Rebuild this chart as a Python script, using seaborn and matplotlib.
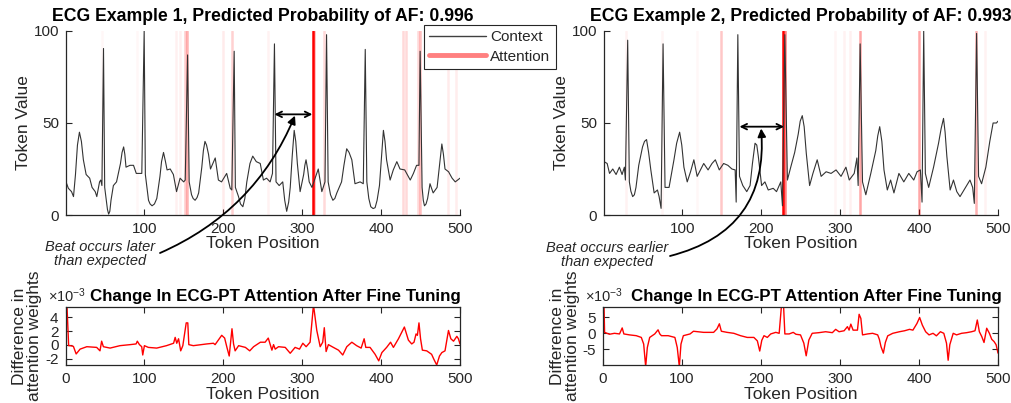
import matplotlib
matplotlib.use("Agg")
import matplotlib.pyplot as plt
import seaborn as sns
import pandas as pd
from matplotlib.lines import Line2D

# ---------------- data ----------------
ecg1_points = [(1, 18), (4, 14.5), (8, 12.7), (10.5, 10), (13, 22), (15.5, 38), (18, 45), (20.5, 40),
               (23, 30), (26.5, 22), (31, 20),
               (34, 15), (38, 12.7), (40, 10), (43.5, 18), (45, 19), (46.5, 16), (48.5, 90.5), (50, 15),
               (52, 8), (53.5, 3), (55, 0.5), (56.5, 2), (58, 8), (61, 16), (65, 18), (68, 24), (70, 28),
               (72, 34), (74, 37), (75.5, 33), (77, 26), (82, 27),
               (86.5, 27), (90, 22.6), (97, 22.6), (100, 100), (101.5, 22), (105.5, 8), (107.5, 6),
               (110, 5), (113, 6), (116, 9),
               (120, 21), (122, 29), (124.5, 34), (127, 29), (129, 24.5), (133, 25), (137, 22), (141, 12.7),
               (145.5, 20), (150, 18), (152, 19), (155, 87), (157, 18), (160, 11), (162, 9), (164.5, 8),
               (167, 9.5), (169, 12), (173, 26), (175, 35),
               (177, 40), (179, 38), (181.5, 33), (184, 25), (190, 31), (194, 19), (198, 18), (204.5, 22.6),
               (209, 14.5), (211, 13.6), (214, 89), (215.5, 15), (219.5, 10), (222, 6), (225, 4.5),
               (227.5, 9), (230, 18),
               (234, 28), (237.5, 32), (242, 29), (247, 28), (251, 19), (255, 20), (259.5, 18),
               (262.5, 22.6), (265, 93), (267, 18), (271, 16), (275.5, 18), (278, 8), (280.5, 2), (283, 7),
               (285, 15), (287.5, 32),
               (290, 46), (292, 40), (294, 28), (297.5, 12.7), (302, 22), (303.5, 27), (305, 30), (307, 25),
               (309, 18), (312.5, 15),
               (316.5, 20), (320.5, 25), (325, 12.7), (329, 18), (331, 98), (333, 18), (336, 11), (339, 8),
               (341.5, 9), (344, 12),
               (350, 18), (353, 27), (356.5, 36), (359.5, 34), (363, 30), (367, 17), (373.5, 18),
               (377.5, 17), (380, 90), (382, 18),
               (384.5, 9), (387, 4.5), (390, 3.5), (392.5, 4), (395, 8), (398, 16), (400.5, 31), (403, 46),
               (405, 40), (407, 30), (411.5, 19), (415.5, 24.5),
               (420, 29), (424, 25), (430, 24.5), (437, 19), (441, 22.6), (445, 27), (448, 27),
               (449.5, 89), (452, 15), (453.5, 8), (455, 5), (457, 6), (459, 9), (462, 17), (466, 12),
               (471, 15), (474, 27), (477, 38.6), (479, 33),
               (481, 25), (485.5, 23.5), (490, 20), (494, 18), (500, 20)]

ecg2_points = [(1, 29), (5, 28), (8, 22.6), (12.1, 25), (16.3, 22), (20.5, 26), (23.9, 22), (26.8, 26),
               (28.1, 19), (31, 95), (33.1, 18), (35, 13), (37.3, 10), (39.5, 11), (41.5, 15), (45, 27),
               (49.8, 37), (52.3, 40), (54.9, 41), (57.5, 34),
               (60.3, 24.5), (64.5, 12), (68.7, 13.6), (70.8, 10), (73.3, 3.6), (75.8, 93), (78.3, 15),
               (83.4, 15), (89.6, 30), (93, 39), (96.8, 45), (99.5, 38), (102.2, 26), (106.4, 18),
               (110.6, 23.5), (114.8, 30),
               (119, 21), (123.1, 24.5), (127.3, 28), (132.8, 24.5), (137.8, 28), (142, 30), (147, 24.5),
               (152.5, 28), (157.9, 27), (163, 25), (167.1, 24.5), (168.4, 7), (170.5, 98), (172.6, 21),
               (176.8, 16), (181.8, 12.7), (186, 16), (189, 28), (192.3, 39), (194.5, 38), (196.4, 32),
               (200.6, 16), (204.8, 18),
               (209, 13.6), (215.3, 14.5), (219.5, 12.7), (224.9, 18), (227, 5), (230, 98), (233.3, 19),
               (237.5, 26), (242.5, 34), (247, 44), (249.5, 51), (252.1, 54), (254.5, 48), (257.2, 33.5),
               (261.4, 16), (265.6, 22.6), (271, 30),
               (276, 21), (282.3, 23.5), (288.6, 22.6), (294.9, 24.5), (301.2, 21), (307.4, 26),
               (311.6, 19), (317.9, 22.6), (321.3, 31), (322.9, 16), (325.4, 93), (328.4, 18), (332.6, 11),
               (338.9, 22.6), (345.2, 35), (347.7, 43), (350.2, 48), (352.9, 40), (355.6, 24.5),
               (359.8, 13.6), (364, 19), (368.2, 12),
               (374.5, 22.6), (380.7, 18), (387, 22.6), (393.3, 19), (397.5, 23.5), (401.7, 24.5),
               (403.8, 7), (405.9, 100), (408, 22.6), (412.2, 15), (418.4, 26), (424.7, 39), (428, 47),
               (431, 52.5), (433, 45),
               (435.2, 32), (439.4, 13.6), (443.6, 19), (447.8, 12.7), (451.9, 10), (458.2, 14.5),
               (464.5, 19), (467.9, 15), (470, 6.3), (472.9, 98.7), (475.4, 21), (479.2, 17), (484.6, 26),
               (489.6, 40), (493.8, 50), (498, 50), (500, 51)]

# difference in attention weights, in units of 1e-3
diff1_points = [(1, 8), (4, -0.1), (6, -0.1), (10, -0.2), (13.5, -1.3), (18.5, -0.6), (27, -0.25),
                (39.5, -0.35), (43.7, -0.85), (45.8, 0.55), (48, -0.25), (56.5, -0.45), (69, -0.1),
                (82, 0.05), (89.5, 0.15), (91, 0.55), (93.7, 0.05), (96.6, -0.25), (97.9, -1.45),
                (100, -0.1), (105, -0.35), (115.6, -0.45), (128, -0.1), (137, 0.25), (139, 1.1),
                (141, 0.25), (143.3, 0.9), (146, -0.85), (148.7, -0.1), (153, 3.2), (155, 3.2),
                (156.3, 0.05), (162, -0.1), (179, 0.15), (187.5, 0.25), (189.6, 0.05), (198, 1.4),
                (201.7, 1.0), (204.6, -0.35), (207.5, -1.6), (211, 2.35), (213, 0.15), (215, -0.85),
                (219.4, -0.1), (228, -0.35), (233.5, -0.85), (238.4, -0.25), (247, 0.4), (253, 0.4),
                (257, 1.0), (259.5, 0.05), (261.6, -0.75), (263.7, 0.05), (265.8, -0.6), (270, -0.25),
                (278.5, -0.35), (284.8, -1.2), (291, -0.35), (296.6, -0.6), (300.8, 0.25), (305, -0.25),
                (310, 0.4), (314.3, 5.8), (318.5, 2.1), (322.8, -0.25), (326, 0.4), (328, 2.5),
                (330.3, -0.95), (333.2, 0.05), (339.5, -0.35), (346, -0.75), (351.4, -1.45),
                (356.5, -0.25), (362.9, 0.4), (369, -0.1), (374.7, -0.45), (378.5, 0.9), (380.6, -0.35),
                (386, -0.35), (392.4, -1.35), (397, -2.3), (401, -1.1), (407, -0.35), (412, 0.4),
                (415.6, -0.35), (422, 0.9), (429.5, 2.6), (434.6, 0.7), (438.8, 0.15), (441.7, 0.4),
                (444.3, 1.6), (446, 1.4), (448, 3.2), (450, 0.9), (452.3, -0.75), (457.8, -0.85),
                (464, -1.35), (467, -2.1), (470.5, -2.9), (474, -1.6), (477, -1.1), (481, -0.85),
                (485.4, 2.1), (488.4, 0.9), (491.8, 0.55), (496, 1.25), (498, 0.9), (500, 0.15)]

diff2_points = [(1, 12), (2, 0.3), (8.2, -0.3), (14.5, 0), (20.9, -0.2), (24.3, 1.7), (26.4, -0.2),
                (33.6, -0.5), (42.1, -0.75), (48.5, -1.3), (51.5, -3.4), (54, -10.5), (56.1, -4.5),
                (59.1, -1.3), (65.5, -0.2), (69.7, 1.1), (71.9, -0.2), (74, -0.75), (82.5, -0.75),
                (91, -1.3), (94, -4.5), (96.6, -10.5), (98.7, -3.4), (101.7, -0.75), (110.2, -0.2),
                (114.5, 0.65), (127.3, 0.3), (140, 0.3), (144.3, 1.4), (147.3, 3.0), (149.8, 0.65),
                (157, 0.3), (165.6, 0), (174.1, -0.75), (182.6, -1.3), (191, -1.3), (195.4, -2.4),
                (198.4, -5.6), (201, -2.2), (203.8, -0.75), (208, -1.3), (212.3, -0.2), (218.7, 0.3),
                (223, 0), (226, 9), (228.5, 9), (230.2, -0.2), (235.7, -0.2), (240.8, 0.3), (244.2, -0.3),
                (250, -0.5), (254.2, -3.1), (257.2, -7.1), (260.6, -2.1), (264.8, 0), (273.3, 0.2),
                (281.8, 0.5), (290.3, 0.2), (294.5, 1.25), (298.8, 0.5), (305.2, 0.8), (309.4, 2.1),
                (311.5, 1.0), (313.7, 2.9), (316.6, 1.0), (322.1, 1.0), (324.2, 6.0), (326.4, 4.7),
                (328.5, -0.5), (334.9, -0.2), (341.3, 0), (347.7, -0.5), (349.8, -1.9), (351.9, -4.2),
                (354.9, -6.25), (357.4, -2.9), (360.4, -0.8), (366.8, 0), (375.3, 0.5), (381.7, 0.8),
                (388, 1.25), (392.3, 1.0), (397.4, 3.1), (400.8, 5.0), (404.2, 2.6), (408.4, 0.5),
                (412.7, -0.5), (417.8, 0), (422, -0.8), (427.1, 0.5), (431.4, 0), (434.8, -3.1),
                (436.9, -8.5), (439, -3.6), (443.3, 0), (447.5, -0.5), (453.9, 0), (460.3, 0.2),
                (466.6, 0.5), (470.9, 0.8), (473.8, 4.2), (476.4, 0.5), (479.4, -1.0), (482.3, -2.9),
                (485.7, 1.6), (489.1, 0), (492.1, -1.9), (495, -2.6), (497.6, -3.6), (500, -6.25)]

# attention highlights: (token position, attention strength 0..1)
attn1 = [(46, 0.03), (91, 0.03), (140, 0.06), (146, 0.06), (152, 0.2), (154, 0.3), (200, 0.08),
         (211, 0.18), (257, 0.05), (314, 1.0), (315.5, 0.3), (328, 0.15), (428, 0.15), (431, 0.15),
         (447, 0.15), (449, 0.25), (485, 0.08), (495, 0.07)]
attn2 = [(29, 0.05), (75, 0.04), (119, 0.03), (149, 0.22), (228, 1.0), (230, 0.5), (293, 0.04),
         (305, 0.05), (313, 0.06), (325, 0.35), (399.6, 0.35), (472, 0.3), (483, 0.05)]

top_titles = ["ECG Example 1, Predicted Probability of AF: 0.996",
              "ECG Example 2, Predicted Probability of AF: 0.993"]
bottom_title = "Change In ECG-PT Attention After Fine Tuning"
notes = ["Beat occurs later\nthan expected", "Beat occurs earlier\nthan expected"]
# beat interval arrows: (start token, end token, token value)
intervals = [(265, 313, 54.7), (172.6, 229, 48)]
note_targets = [(291, 54), (200, 47)]
legend_labels = ["Context", "Attention"]
top_xticks = [100, 200, 300, 400, 500]
top_yticks = [0, 50, 100]
bottom_xticks = [0, 100, 200, 300, 400, 500]
bottom_yticks = [[-2, 0, 2, 4], [-5, 0, 5]]
bottom_ylims = [(-2.9, 5.5), (-10.0, 8.3)]

# ---------------- style ----------------
sns.set_style("white")
plt.rcParams["font.family"] = ["Liberation Sans", "DejaVu Sans"]
plt.rcParams["mathtext.fontset"] = "custom"
plt.rcParams["mathtext.rm"] = "Liberation Sans"
plt.rcParams["mathtext.it"] = "Liberation Sans:italic"
plt.rcParams["axes.unicode_minus"] = False

W, H = 1011, 403
fig = plt.figure(figsize=(W / 100, H / 100), dpi=100)
fig.patch.set_facecolor("white")

AX = "#262626"


def fx(px):
    return px / W


def fy(py):
    return 1 - py / H


ax_t1 = fig.add_axes([fx(66), fy(215), 394 / W, 184 / H])
ax_t2 = fig.add_axes([fx(604), fy(215), 394 / W, 184 / H])
ax_b1 = fig.add_axes([fx(65.5), fy(365), 394.5 / W, 58 / H])
ax_b2 = fig.add_axes([fx(603), fy(365), 395 / W, 58 / H])

for ax, pts, attn, title in [(ax_t1, ecg1_points, attn1, top_titles[0]),
                              (ax_t2, ecg2_points, attn2, top_titles[1])]:
    for pos, w in attn:
        ax.axvline(pos, color="#FF0000", alpha=w, lw=1.8, zorder=1)
    df = pd.DataFrame(pts, columns=["pos", "val"])
    sns.lineplot(data=df, x="pos", y="val", ax=ax, color="#333333", lw=0.8,
                 estimator=None, sort=False, zorder=2)
    ax.set_xlim(1, 500)
    ax.set_ylim(0, 100)
    ax.set_xticks(top_xticks)
    ax.set_yticks(top_yticks)
    for s in ["top", "right"]:
        ax.spines[s].set_visible(False)
    for s in ["left", "bottom"]:
        ax.spines[s].set_color(AX)
        ax.spines[s].set_linewidth(0.9)
    ax.tick_params(direction="in", length=4, width=0.8, colors=AX, labelsize=11, pad=5,
                   bottom=True, left=True)
    ax.set_xlabel("Token Position", fontsize=12.5, color=AX, labelpad=0)
    ax.set_ylabel("Token Value", fontsize=12.5, color=AX, labelpad=2)
    ax.set_title(title, fontsize=12.7, fontweight="bold", color="black", pad=7)

for i, (ax, pts) in enumerate([(ax_b1, diff1_points), (ax_b2, diff2_points)]):
    df = pd.DataFrame(pts, columns=["pos", "val"])
    sns.lineplot(data=df, x="pos", y="val", ax=ax, color="#FF0000", lw=1.0,
                 estimator=None, sort=False)
    ax.set_xlim(0, 500)
    ax.set_ylim(*bottom_ylims[i])
    ax.set_xticks(bottom_xticks)
    ax.set_yticks(bottom_yticks[i])
    for s in ax.spines.values():
        s.set_visible(True)
        s.set_color(AX)
        s.set_linewidth(0.9)
    ax.tick_params(direction="in", length=4, width=0.8, colors=AX, labelsize=11, pad=5,
                   bottom=True, left=True, top=True, right=True)
    ax.set_xlabel("Token Position", fontsize=12.5, color=AX, labelpad=0.5)
    ax.set_ylabel("Difference in\nattention weights", fontsize=12.5, color=AX, labelpad=2,
                  linespacing=1.0)
    ax.set_title(bottom_title, fontsize=12.2, fontweight="bold", color="black", pad=4,
                 x=0.533 if i == 0 else 0.54)
    ax.text(-0.045, 1.2, "×10$^{-3}$", transform=ax.transAxes, ha="left", va="center",
            fontsize=10.5, color=AX)

# interval arrows
for ax, (a, b, v) in zip([ax_t1, ax_t2], intervals):
    ax.annotate("", xy=(b, v), xytext=(a, v),
                arrowprops=dict(arrowstyle="<->", color="black", lw=1.3, mutation_scale=10,
                                shrinkA=0, shrinkB=0))

# notes with curved arrows
fig.text(fx(100), fy(254), notes[0], ha="center", va="center", fontsize=10.5, style="italic",
         color=AX, linespacing=0.95)
fig.text(fx(607), fy(255), notes[1], ha="center", va="center", fontsize=10.5, style="italic",
         color=AX, linespacing=0.95)
ax_t1.annotate("", xy=note_targets[0], xycoords="data", xytext=(160, H - 253),
               textcoords="figure pixels", annotation_clip=False,
               arrowprops=dict(arrowstyle="-|>", connectionstyle="arc3,rad=0.2", color="black",
                               lw=1.3, mutation_scale=12, shrinkA=0, shrinkB=0))
ax_t2.annotate("", xy=note_targets[1], xycoords="data", xytext=(670, H - 256),
               textcoords="figure pixels", annotation_clip=False,
               arrowprops=dict(arrowstyle="-|>", connectionstyle="arc3,rad=0.42", color="black",
                               lw=1.3, mutation_scale=12, shrinkA=0, shrinkB=0))

# legend
handles = [Line2D([], [], color="#404040", lw=1.0), Line2D([], [], color="#FF8080", lw=3.5)]
leg = fig.legend(handles, legend_labels, loc="upper left", bbox_to_anchor=(fx(424), fy(25)),
                 bbox_transform=fig.transFigure, frameon=True, fancybox=False, framealpha=1,
                 edgecolor=AX, fontsize=11, handlelength=3.7, handletextpad=0.3, borderpad=0.35,
                 labelspacing=0.35, borderaxespad=0)
leg.get_frame().set_linewidth(0.8)

fig.savefig("out.png", dpi=100, facecolor="white")
